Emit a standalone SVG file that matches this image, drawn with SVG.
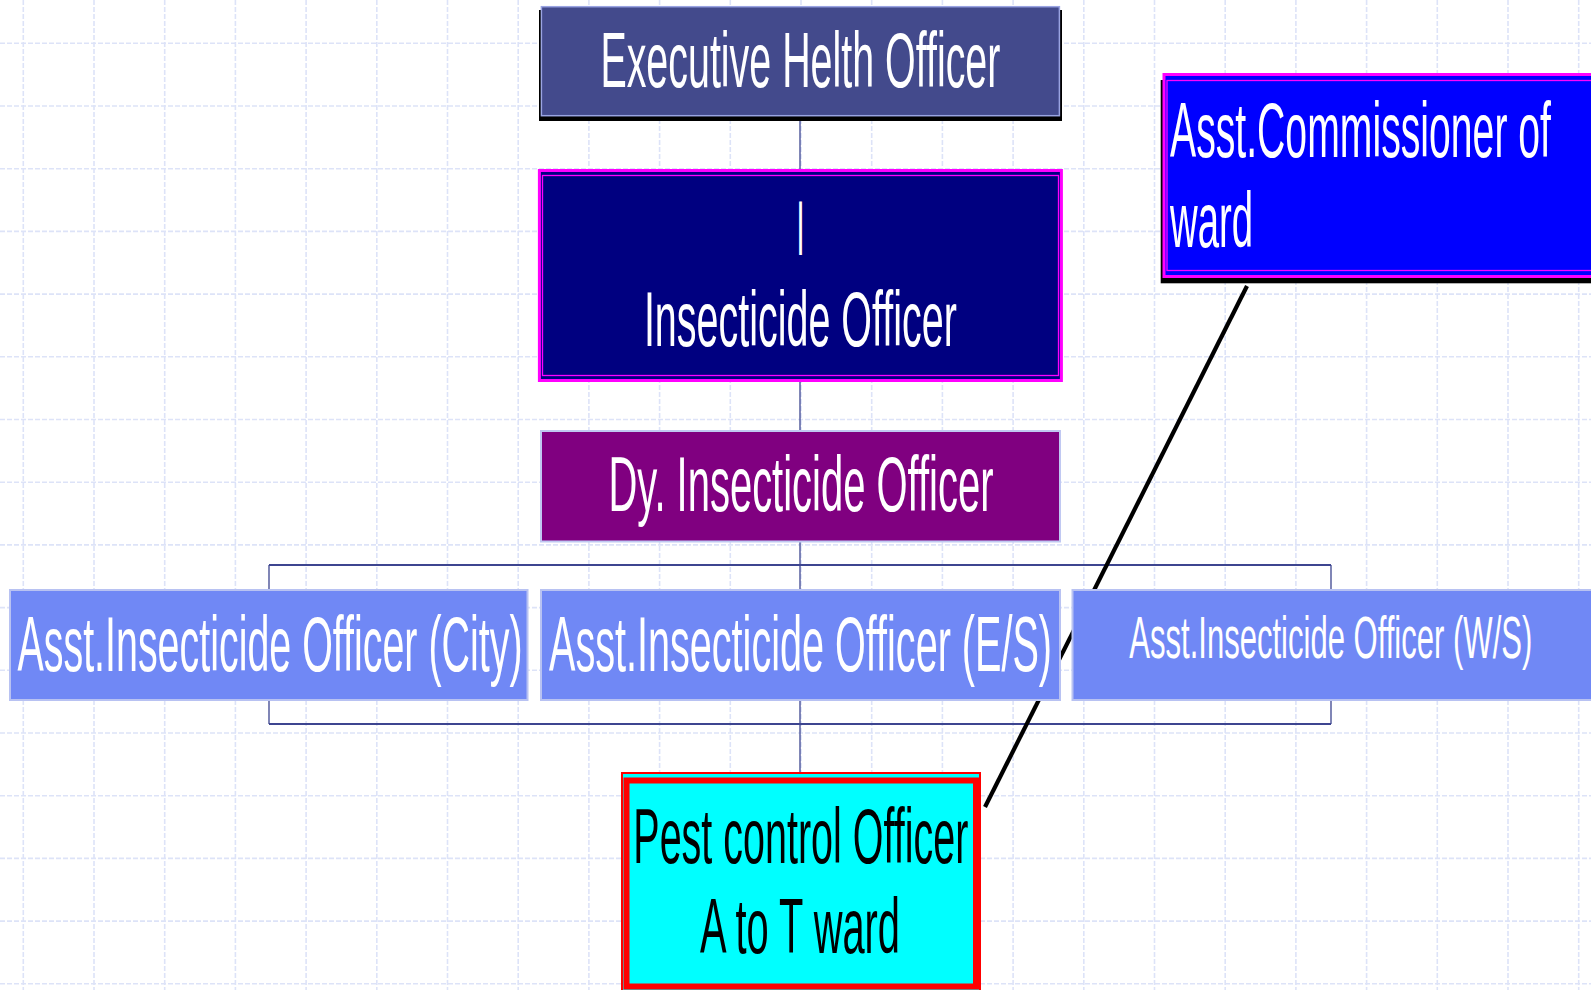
<svg xmlns="http://www.w3.org/2000/svg" width="1591" height="990" viewBox="0 0 1591 990">
<style>
.grid{stroke:#dde3f8;stroke-width:1.6;stroke-dasharray:5 2;fill:none}
.conn{stroke:#3d4590;fill:none}
.t{font-family:"Liberation Sans",Arial,sans-serif;fill:#fff}
.big{font-size:78px}
.mid{font-size:60px}
.lb{fill:#7088f5;stroke:#b8c2f2;stroke-width:2}
</style>
<rect width="1591" height="990" fill="#fff"/>
<g id="grid">
<path class="grid" d="M23.3 0V990M94 0V990M164.7 0V990M235.4 0V990M306.1 0V990M376.8 0V990M447.5 0V990M518.2 0V990M588.9 0V990M659.6 0V990M730.3 0V990M801 0V990M871.7 0V990M942.4 0V990M1013.1 0V990M1083.8 0V990M1154.5 0V990M1225.2 0V990M1295.9 0V990M1366.6 0V990M1437.3 0V990M1508 0V990M1578.7 0V990"/>
<path class="grid" d="M0 43.3H1591M0 106H1591M0 168.7H1591M0 231.4H1591M0 294.1H1591M0 356.8H1591M0 419.5H1591M0 482.2H1591M0 544.9H1591M0 607.6H1591M0 670.3H1591M0 733H1591M0 795.7H1591M0 858.4H1591M0 921.1H1591M0 983.8H1591"/>
</g>
<g id="connectors">
<path class="conn" stroke-width="1.3" d="M800 116V772"/>
<path class="conn" stroke-width="2" d="M269 565H1331M269 724H1331"/>
<path class="conn" stroke-width="1.3" d="M269 565V724M1331 565V724"/>
<line x1="1247" y1="286" x2="985" y2="807" stroke="#000" stroke-width="4.2"/>
</g>
<g id="exec">
<rect x="539" y="10" width="523" height="111" fill="#000"/>
<rect x="541.4" y="6.7" width="518" height="109" fill="#434a8c" stroke="#9aa4e2" stroke-width="1.5"/>
<text class="t big" x="800.4" y="87.3" text-anchor="middle" textLength="400" lengthAdjust="spacingAndGlyphs">Executive Helth Officer</text>
</g>
<g id="insecticide">
<rect x="539.4" y="170.5" width="522" height="210" fill="#000080" stroke="#ff00ff" stroke-width="3"/>
<rect x="542.5" y="175.5" width="516" height="200" fill="none" stroke="#ff00ff" stroke-width="1.3"/>
<text class="t big" x="800.4" y="255" text-anchor="middle" textLength="8" lengthAdjust="spacingAndGlyphs">I</text>
<text class="t big" x="800.4" y="346" text-anchor="middle" textLength="313" lengthAdjust="spacingAndGlyphs">Insecticide Officer</text>
</g>
<g id="dy">
<rect x="541" y="431" width="519" height="110.5" fill="#800080" stroke="#c0c8f2" stroke-width="2"/>
<text class="t big" x="801" y="511" text-anchor="middle" textLength="385" lengthAdjust="spacingAndGlyphs">Dy. Insecticide Officer</text>
</g>
<g id="asst-city">
<rect class="lb" x="10" y="590" width="517.5" height="110"/>
<text class="t big" x="270" y="671" text-anchor="middle" textLength="505" lengthAdjust="spacingAndGlyphs">Asst.Insecticide Officer (City)</text>
</g>
<g id="asst-es">
<rect class="lb" x="541" y="590" width="519" height="110"/>
<text class="t big" x="800.5" y="671" text-anchor="middle" textLength="503" lengthAdjust="spacingAndGlyphs">Asst.Insecticide Officer (E/S)</text>
</g>
<g id="asst-ws">
<rect class="lb" x="1072.5" y="590" width="520" height="110"/>
<text class="t mid" x="1330.8" y="658" text-anchor="middle" textLength="403" lengthAdjust="spacingAndGlyphs">Asst.Insecticide Officer (W/S)</text>
</g>
<g id="commissioner">
<rect x="1160.7" y="80" width="440" height="203.3" fill="#000"/>
<rect x="1164" y="74.5" width="440" height="202" fill="#0000ff" stroke="#ff00ff" stroke-width="3"/>
<rect x="1167" y="80.5" width="440" height="190" fill="none" stroke="#ff00ff" stroke-width="1.3"/>
<text class="t big" x="1170" y="156.7" textLength="381" lengthAdjust="spacingAndGlyphs">Asst.Commissioner of</text>
<text class="t big" x="1170" y="246.7" textLength="83" lengthAdjust="spacingAndGlyphs">ward</text>
</g>
<g id="pest">
<rect x="622" y="773" width="358" height="225" fill="#00ffff" stroke="#ff0000" stroke-width="2"/>
<rect x="626.5" y="780.5" width="349.5" height="206" fill="#00ffff" stroke="#ff0000" stroke-width="6"/>
<text class="t big" x="800.8" y="863.3" text-anchor="middle" textLength="335" lengthAdjust="spacingAndGlyphs" style="fill:#000">Pest control Officer</text>
<text class="t big" x="800" y="953.3" text-anchor="middle" textLength="200" lengthAdjust="spacingAndGlyphs" style="fill:#000">A to T ward</text>
</g>
</svg>
